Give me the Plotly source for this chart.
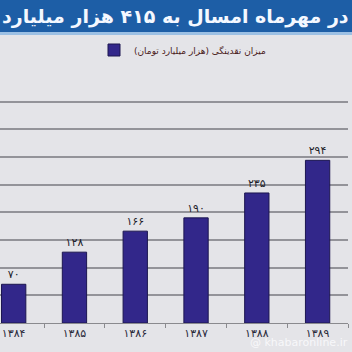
import plotly.graph_objects as go

years = ["۱۳۸۴", "۱۳۸۵", "۱۳۸۶", "۱۳۸۷", "۱۳۸۸", "۱۳۸۹"]
values = [70, 128, 166, 190, 235, 294]
value_labels = ["۷۰", "۱۲۸", "۱۶۶", "۱۹۰", "۲۳۵", "۲۹۴"]
series_name = "میزان نقدینگی (هزار میلیارد تومان)"
title_text = "در مهرماه امسال به ۴۱۵ هزار میلیارد"

W, H = 352, 352
ml, mr, mt, mb = 0, 4, 74, 29
ph = H - mt - mb
pw = W - ml - mr

def py(px):
    return (H - mb - px) / ph

def pxx(px):
    return (px - ml) / pw

fig = go.Figure()
fig.add_trace(go.Bar(
    x=years, y=values, name=series_name,
    marker=dict(color="#32278a", line=dict(color="#1c1650", width=1)),
    width=0.4,
    text=value_labels, textposition="outside",
    textfont=dict(family="DejaVu Sans", size=11, color="#1e1e2a"),
    cliponaxis=False,
))

fig.update_layout(
    width=W, height=H,
    margin=dict(l=ml, r=mr, t=mt, b=mb),
    paper_bgcolor="#e4e4e8",
    plot_bgcolor="#e4e4e8",
    showlegend=True,
    legend=dict(orientation="h", x=pxx(94), xanchor="left", y=py(50), yanchor="middle",
                font=dict(family="DejaVu Sans", size=9, color="#4a2020"),
                bgcolor="rgba(0,0,0,0)", itemwidth=30),
    xaxis=dict(type="category", range=[-0.225, 5.5], showgrid=False,
               showline=True, linecolor="#8a8a8e", linewidth=1,
               ticks="outside", tickson="boundaries", ticklen=4, tickcolor="#8a8a8e",
               tickfont=dict(family="DejaVu Sans", size=11, color="#2a2a3a")),
    yaxis=dict(range=[0, 450], dtick=50, showgrid=True, gridcolor="#939399", gridwidth=1.5,
               showticklabels=False, zeroline=False, showline=False),
    bargap=0.6,
)

fig.add_shape(type="rect", xref="paper", yref="paper",
              x0=pxx(-5), x1=pxx(W + 5), y0=py(33), y1=py(-2),
              fillcolor="#1d5ea6", line=dict(width=0), layer="above")
fig.add_shape(type="rect", xref="paper", yref="paper",
              x0=pxx(-5), x1=pxx(W + 5), y0=py(35), y1=py(32),
              fillcolor="#9cc0e4", line=dict(width=0), layer="above")
fig.add_annotation(text="<b>" + title_text + "</b>", xref="paper", yref="paper",
                   x=pxx(351), xanchor="right", y=py(16), yanchor="middle",
                   showarrow=False,
                   font=dict(family="DejaVu Sans", size=19, color="#f4f8ff"))
fig.add_annotation(text="@ khabaronline.ir", xref="paper", yref="paper",
                   x=pxx(350), xanchor="right", y=py(342), yanchor="middle",
                   showarrow=False,
                   font=dict(family="DejaVu Sans", size=11, color="rgba(250,250,252,0.9)"))

fig.write_html("out.html")
